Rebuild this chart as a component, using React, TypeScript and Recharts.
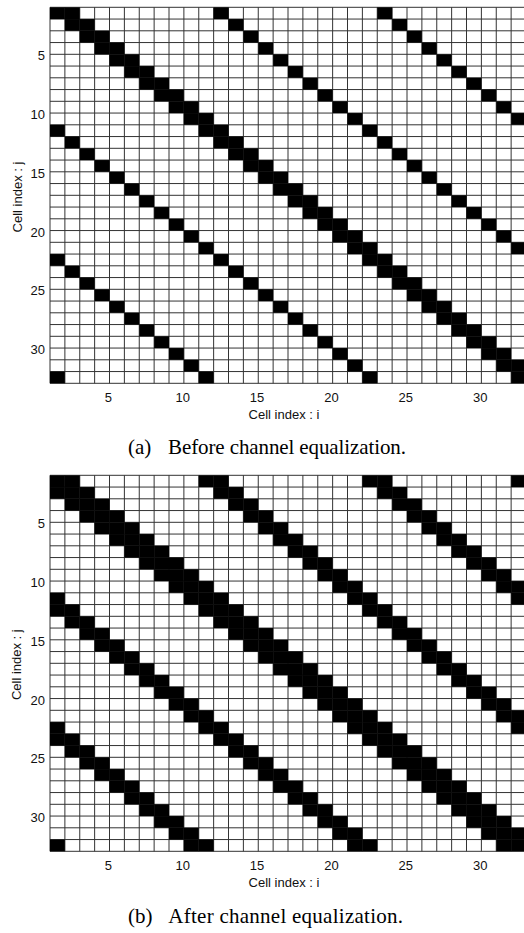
import React from 'react';
import { ComposedChart, XAxis, YAxis, CartesianGrid, ReferenceArea } from 'recharts';

// Cell boundaries (pcolor-style grid, 1..33) and labelled ticks
const GRID_TICKS = [1, 2, 3, 4, 5, 6, 7, 8, 9, 10, 11, 12, 13, 14, 15, 16, 17, 18, 19, 20, 21, 22, 23, 24, 25, 26, 27, 28, 29, 30, 31, 32, 33];
const LABELED_TICKS = [5, 10, 15, 20, 25, 30];

const X_LABEL = 'Cell index : i';
const Y_LABEL = 'Cell index : j';
const CAPTION_A_TAG = '(a)';
const CAPTION_A_TEXT = 'Before channel equalization.';
const CAPTION_B_TAG = '(b)';
const CAPTION_B_TEXT = 'After channel equalization.';

// Black cells per row j (index 0 -> j = 1), listed as column indices i
const BEFORE_ROWS: number[][] = [
  [1, 2, 12, 23],
  [2, 3, 13, 24],
  [3, 4, 14, 25],
  [4, 5, 15, 26],
  [5, 6, 16, 27],
  [6, 7, 17, 28],
  [7, 8, 18, 29],
  [8, 9, 19, 30],
  [9, 10, 20, 31],
  [10, 11, 21, 32],
  [11, 12, 22, 1],
  [12, 13, 23, 2],
  [13, 14, 24, 3],
  [14, 15, 25, 4],
  [15, 16, 26, 5],
  [16, 17, 27, 6],
  [17, 18, 28, 7],
  [18, 19, 29, 8],
  [19, 20, 30, 9],
  [20, 21, 31, 10],
  [21, 22, 32, 11],
  [22, 23, 1, 12],
  [23, 24, 2, 13],
  [24, 25, 3, 14],
  [25, 26, 4, 15],
  [26, 27, 5, 16],
  [27, 28, 6, 17],
  [28, 29, 7, 18],
  [29, 30, 8, 19],
  [30, 31, 9, 20],
  [31, 32, 10, 21],
  [32, 1, 11, 22],
];

const AFTER_ROWS: number[][] = [
  [32, 1, 2, 11, 12, 22, 23],
  [1, 2, 3, 12, 13, 23, 24],
  [2, 3, 4, 13, 14, 24, 25],
  [3, 4, 5, 14, 15, 25, 26],
  [4, 5, 6, 15, 16, 26, 27],
  [5, 6, 7, 16, 17, 27, 28],
  [6, 7, 8, 17, 18, 28, 29],
  [7, 8, 9, 18, 19, 29, 30],
  [8, 9, 10, 19, 20, 30, 31],
  [9, 10, 11, 20, 21, 31, 32],
  [10, 11, 12, 21, 22, 32, 1],
  [11, 12, 13, 22, 23, 1, 2],
  [12, 13, 14, 23, 24, 2, 3],
  [13, 14, 15, 24, 25, 3, 4],
  [14, 15, 16, 25, 26, 4, 5],
  [15, 16, 17, 26, 27, 5, 6],
  [16, 17, 18, 27, 28, 6, 7],
  [17, 18, 19, 28, 29, 7, 8],
  [18, 19, 20, 29, 30, 8, 9],
  [19, 20, 21, 30, 31, 9, 10],
  [20, 21, 22, 31, 32, 10, 11],
  [21, 22, 23, 32, 1, 11, 12],
  [22, 23, 24, 1, 2, 12, 13],
  [23, 24, 25, 2, 3, 13, 14],
  [24, 25, 26, 3, 4, 14, 15],
  [25, 26, 27, 4, 5, 15, 16],
  [26, 27, 28, 5, 6, 16, 17],
  [27, 28, 29, 6, 7, 17, 18],
  [28, 29, 30, 7, 8, 18, 19],
  [29, 30, 31, 8, 9, 19, 20],
  [30, 31, 32, 9, 10, 20, 21],
  [31, 32, 1, 10, 11, 21, 22],
];

type Cell = { i: number; j: number };

function toCells(rows: number[][]): Cell[] {
  const out: Cell[] = [];
  rows.forEach((cols, r) => cols.forEach((i) => out.push({ i, j: r + 1 })));
  return out;
}

const SANS = '"Liberation Sans", Arial, Helvetica, sans-serif';
const SERIF = '"Liberation Serif", "Times New Roman", serif';
const tickFmt = (v: number) => (LABELED_TICKS.includes(v) ? String(v) : '');

const CHART_W = 540;
const CHART_H = 420;
const PLOT_TOP = 7.3;

function Panel({ rows, top }: { rows: number[][]; top: number }) {
  const cells = toCells(rows);
  return (
    <div style={{ position: 'absolute', left: 0, top, width: 524, height: CHART_H, overflow: 'hidden' }}>
      <ComposedChart
        width={CHART_W}
        height={CHART_H}
        data={cells}
        margin={{ top: PLOT_TOP, right: 14, bottom: 6.7, left: 0 }}
      >
        <CartesianGrid stroke="#333" strokeWidth={1} />
        <XAxis
          type="number"
          dataKey="i"
          domain={[1, 33]}
          allowDataOverflow
          ticks={GRID_TICKS}
          interval={0}
          tickFormatter={tickFmt}
          tickLine={false}
          axisLine={false}
          tickSize={0}
          tickMargin={9.7}
          height={30}
          tick={{ fontSize: 13, fill: '#111', fontFamily: SANS, dx: -1.2 }}
        />
        <YAxis
          type="number"
          dataKey="j"
          domain={[1, 33]}
          allowDataOverflow
          reversed
          ticks={GRID_TICKS}
          interval={0}
          tickFormatter={tickFmt}
          tickLine={false}
          axisLine={false}
          tickSize={0}
          tickMargin={5}
          width={50}
          tick={{ fontSize: 13, fill: '#111', fontFamily: SANS, dy: 1.5 }}
        />
        {cells.map((c, k) => (
          <ReferenceArea
            key={k}
            x1={c.i}
            x2={c.i + 1}
            y1={c.j}
            y2={c.j + 1}
            fill="#000"
            fillOpacity={1}
            stroke="none"
            ifOverflow="visible"
          />
        ))}
      </ComposedChart>
    </div>
  );
}

const PANEL_B_TOP = 467.7;

export default function App() {
  return (
    <div style={{ position: 'absolute', left: 0, top: 0, width: 524, height: 933, background: '#fff', overflow: 'hidden' }}>
      <Panel rows={BEFORE_ROWS} top={0} />
      <Panel rows={AFTER_ROWS} top={PANEL_B_TOP} />
      <svg width={524} height={933} style={{ position: 'absolute', left: 0, top: 0, pointerEvents: 'none' }}>
        <text x={21.5} y={197} transform="rotate(-90 21.5 197)" textAnchor="middle" fontFamily={SANS} fontSize={13} fill="#111">{Y_LABEL}</text>
        <text x={21.5} y={664.7} transform="rotate(-90 21.5 664.7)" textAnchor="middle" fontFamily={SANS} fontSize={13} fill="#111">{Y_LABEL}</text>
        <text x={284} y={418.5} textAnchor="middle" fontFamily={SANS} fontSize={13} fill="#111">{X_LABEL}</text>
        <text x={284} y={887} textAnchor="middle" fontFamily={SANS} fontSize={13} fill="#111">{X_LABEL}</text>
        <text x={128} y={454} fontFamily={SERIF} fontSize={21} fill="#000">{CAPTION_A_TAG}</text>
        <text x={168} y={454} fontFamily={SERIF} fontSize={21} fill="#000" textLength={238} lengthAdjust="spacing">{CAPTION_A_TEXT}</text>
        <text x={128} y={923} fontFamily={SERIF} fontSize={21} fill="#000">{CAPTION_B_TAG}</text>
        <text x={168.3} y={923} fontFamily={SERIF} fontSize={21} fill="#000" textLength={234.7} lengthAdjust="spacing">{CAPTION_B_TEXT}</text>
      </svg>
    </div>
  );
}
